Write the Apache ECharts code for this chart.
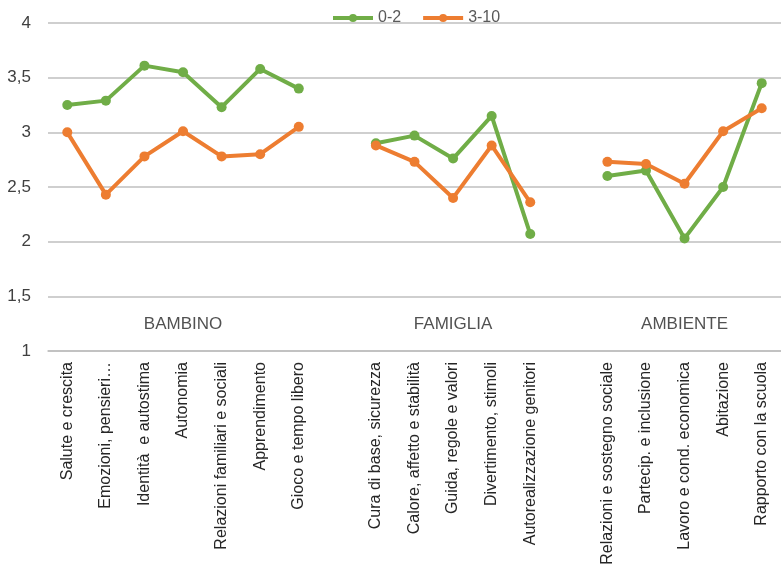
<!DOCTYPE html>
<html><head><meta charset="utf-8">
<script src="https://cdn.jsdelivr.net/npm/echarts@6/dist/echarts.min.js"></script>
<style>html,body{margin:0;padding:0;background:#fff}#c{width:781px;height:576px}</style>
</head><body><div id="c"></div>
<script>
const categories = [
  'Salute e crescita','Emozioni, pensieri…','Identità  e autostima','Autonomia','Relazioni familiari e sociali','Apprendimento','Gioco e tempo libero',
  '',
  'Cura di base, sicurezza','Calore, affetto e stabilità','Guida, regole e valori','Divertimento, stimoli','Autorealizzazione genitori',
  ' ',
  'Relazioni e sostegno sociale','Partecip. e inclusione','Lavoro e cond. economica','Abitazione','Rapporto con la scuola'
];
const series02 = [3.25,3.29,3.61,3.55,3.23,3.58,3.40, null, 2.90,2.97,2.76,3.15,2.07, null, 2.60,2.65,2.03,2.50,3.45];
const series310 = [3.00,2.43,2.78,3.01,2.78,2.80,3.05, null, 2.88,2.73,2.40,2.88,2.36, null, 2.73,2.71,2.53,3.01,3.22];
const groupNames = ['BAMBINO','FAMIGLIA','AMBIENTE'];
const groupCats = [3, 10, 16];
const groupValue = 1.245;
const yTicks = [1, 1.5, 2, 2.5, 3, 3.5, 4];

const FONT = 'Liberation Sans';
const chart = echarts.init(document.getElementById('c'), null, {renderer:'canvas'});
chart.setOption({
  animation:false,
  textStyle:{fontFamily:FONT},
  legend:{
    data:['0-2','3-10'], top:5, left:326,
    itemWidth:40, itemHeight:10, itemGap:20,
    lineStyle:{width:4},
    textStyle:{fontSize:16, color:'#595959', fontFamily:FONT}
  },
  grid:{left:48, right:-7, top:23, bottom:225},
  xAxis:{
    type:'category', data:categories, boundaryGap:true,
    axisLine:{lineStyle:{color:'#BFBFBF', width:1.5}},
    axisTick:{show:false},
    axisLabel:{rotate:90, interval:0, fontSize:16, color:'#262626', margin:11, fontFamily:FONT}
  },
  yAxis:{
    type:'value', min:1, max:4, interval:0.5,
    axisLine:{show:false}, axisTick:{show:false},
    splitLine:{lineStyle:{color:'#BFBFBF', width:1.5}},
    axisLabel:{fontSize:17, color:'#404040', margin:17, fontFamily:FONT,
      formatter:v => yTicks.includes(v) ? String(v).replace('.', ',') : ''}
  },
  series:[
    {name:'0-2', type:'line', data:series02, connectNulls:false,
     symbol:'circle', symbolSize:10, lineStyle:{width:4, color:'#70AD47'},
     itemStyle:{color:'#70AD47'}},
    {name:'3-10', type:'line', data:series310, connectNulls:false,
     symbol:'circle', symbolSize:10, lineStyle:{width:4, color:'#ED7D31'},
     itemStyle:{color:'#ED7D31'}},
    {name:'gruppi', type:'scatter', symbolSize:0, silent:true,
     data: groupNames.map((n,i)=>({value:[groupCats[i], groupValue], name:n})),
     label:{show:true, position:'inside', formatter:p=>p.name, fontSize:17, color:'#262626', fontFamily:FONT}}
  ]
});
</script></body></html>
